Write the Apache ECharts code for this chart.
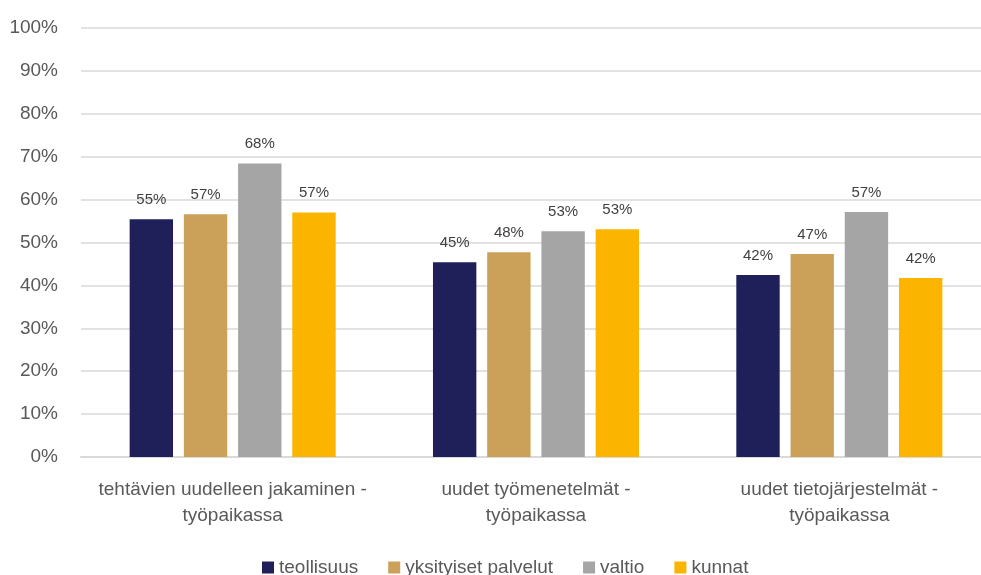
<!DOCTYPE html>
<html>
<head>
<meta charset="utf-8">
<script src="https://cdn.jsdelivr.net/npm/echarts@6/dist/echarts.min.js"></script>
<style>
  html, body { margin: 0; padding: 0; background: #fff; }
  #chart { width: 981px; height: 575px; }
</style>
</head>
<body>
<div id="chart"></div>
<script>
const categories = [
  "tehtävien uudelleen jakaminen -\ntyöpaikassa",
  "uudet työmenetelmät -\ntyöpaikassa",
  "uudet tietojärjestelmät -\ntyöpaikassa"
];
const seriesNames = ["teollisuus", "yksityiset palvelut", "valtio", "kunnat"];
const teollisuus = [55.4, 45.4, 42.4];
const yksityiset = [56.6, 47.7, 47.3];
const valtio = [68.4, 52.6, 57.1];
const kunnat = [57.0, 53.1, 41.7];
const colors = ["#1f1f5a", "#cba15a", "#a5a5a5", "#fbb500"];

const allValues = [teollisuus, yksityiset, valtio, kunnat];

var myChart = echarts.init(document.getElementById("chart"), null, { renderer: "canvas" });

var option = {
  animation: false,
  textStyle: { fontFamily: "Liberation Sans, Arial, sans-serif" },
  grid: { left: 81, width: 910, top: 28, height: 429, containLabel: false, outerBoundsMode: "none" },
  legend: {
    top: 553,
    left: 257,
    itemWidth: 12,
    itemHeight: 12,
    itemGap: 30,
    icon: "rect",
    textStyle: { color: "#595959", fontSize: 19 },
    data: seriesNames
  },
  xAxis: {
    type: "category",
    data: categories,
    axisTick: { show: false },
    axisLine: { lineStyle: { color: "#d9d9d9", width: 2 } },
    axisLabel: { color: "#595959", fontSize: 19, lineHeight: 26, margin: 20, interval: 0 }
  },
  yAxis: {
    type: "value",
    min: 0,
    max: 100,
    interval: 10,
    axisLine: { show: false },
    axisTick: { show: false },
    splitLine: { lineStyle: { color: "#d9d9d9", width: 1.5 } },
    axisLabel: { color: "#595959", fontSize: 19, margin: 23, formatter: "{value}%" }
  },
  series: seriesNames.map(function (name, i) {
    return {
      name: name,
      type: "bar",
      data: allValues[i],
      barWidth: "14.3%",
      barGap: "25%",
      itemStyle: { color: colors[i] },
      label: {
        show: true,
        position: "top",
        distance: 12,
        color: "#404040",
        fontSize: 15,
        formatter: function (p) { return Math.round(p.value) + "%"; }
      }
    };
  })
};

myChart.setOption(option);
</script>
</body>
</html>
